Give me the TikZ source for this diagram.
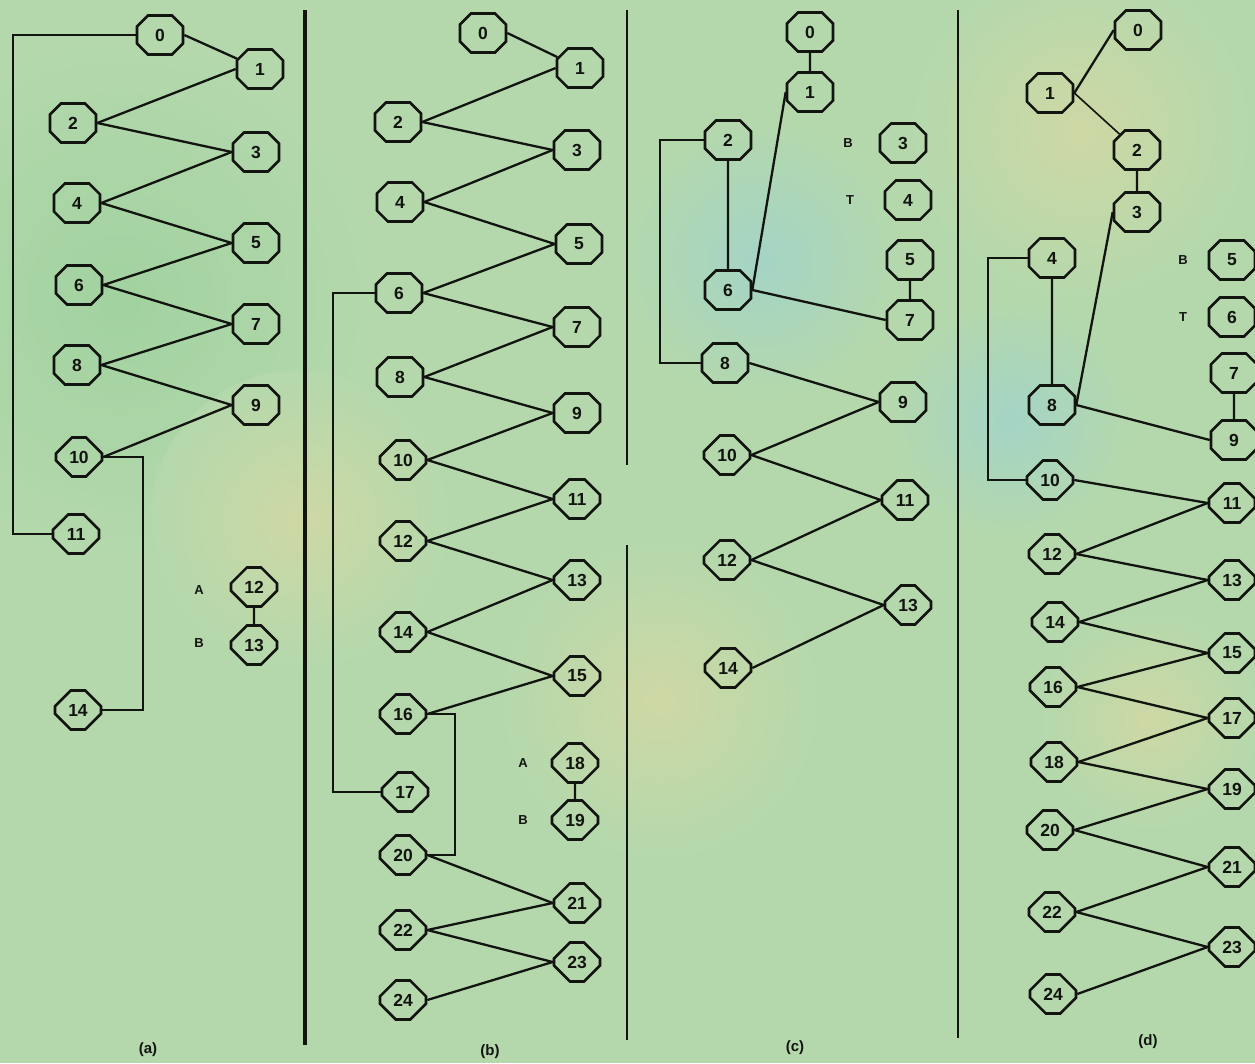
\documentclass[tikz,border=0pt]{standalone}
\usepackage{fontspec}
\newfontfamily\nf{Liberation Sans}
\usetikzlibrary{shapes.misc}
\definecolor{bg}{RGB}{180,216,172}
\definecolor{bgy}{RGB}{206,216,164}
\definecolor{bgb}{RGB}{164,212,198}
\definecolor{bgg}{RGB}{162,210,160}
\definecolor{ink}{RGB}{18,20,16}
\tikzset{
  oct/.style={draw=ink, chamfered rectangle, chamfered rectangle sep=12pt,
    minimum width=46pt, minimum height=39pt, inner sep=0pt, line width=2.6pt,
    font=\nf\bfseries\fontsize{17.5}{17.5}\selectfont, text=ink},
  edge/.style={draw=ink, line width=2.3pt},
  divider/.style={draw=ink, line width=2.5pt},
  tag/.style={font=\nf\bfseries\fontsize{13}{13}\selectfont, text=ink},
  captext/.style={font=\nf\bfseries\fontsize{15}{15}\selectfont, text=ink}
}
\begin{document}
\begin{tikzpicture}[x=1pt,y=-1pt]
\useasboundingbox (0,0) rectangle (1255,1063);
% background
\fill[bg] (0,0) rectangle (1255,1063);
\shade[inner color=bgg, outer color=bg] (120,300) circle (260);
\shade[inner color=bgy, outer color=bg] (1080,130) circle (170);
\shade[inner color=bgy, outer color=bg] (300,520) circle (150);
\shade[inner color=bgy, outer color=bg] (660,700) circle (160);
\shade[inner color=bgb, outer color=bg] (760,260) circle (140);
\shade[inner color=bgb, outer color=bg] (1010,420) circle (120);
\shade[inner color=bgy, outer color=bg] (1150,720) circle (110);

% dividers
\coordinate (v1t) at (305,10); \coordinate (v1b) at (305,1045);
\coordinate (v2t) at (627,10); \coordinate (v2m) at (627,465);
\coordinate (v2n) at (627,545); \coordinate (v2b) at (627,1040);
\coordinate (v3t) at (958,10); \coordinate (v3b) at (958,1038);
\draw[divider, line width=3.5pt] (v1t) -- (v1b);
\draw[divider] (v2t) -- (v2m);
\draw[divider] (v2n) -- (v2b);
\draw[divider] (v3t) -- (v3b);

% ---------- panel (a)
\node[oct] (a0) at (160,35) {0};
\node[oct] (a1) at (260,69) {1};
\node[oct] (a2) at (73,123) {2};
\node[oct] (a3) at (256,152) {3};
\node[oct] (a4) at (77,203) {4};
\node[oct] (a5) at (256,243) {5};
\node[oct] (a6) at (79,285) {6};
\node[oct] (a7) at (256,324) {7};
\node[oct] (a8) at (77,365) {8};
\node[oct] (a9) at (256,405) {9};
\node[oct] (a10) at (79,457) {10};
\node[oct] (a11) at (76,534) {11};
\node[oct] (a12) at (254,587) {12};
\node[oct] (a13) at (254,645) {13};
\node[oct] (a14) at (78,710) {14};
\node[tag] (aA) at (199,590) {A};
\node[tag] (aB) at (199,643) {B};
\draw[edge] (a0.east) -- (a1);
\foreach \l/\r in {2/1,2/3,4/3,4/5,6/5,6/7,8/7,8/9,10/9}
  \draw[edge] (a\l.east) -- (a\r.west);
\draw[edge] (a12) -- (a13);
\coordinate (aLb) at (13,534);
\coordinate (aRb) at (143,710);
\draw[edge] (a0.west) -| (aLb) -- (a11.west);
\draw[edge] (a10.east) -| (aRb) -- (a14.east);
\node[captext] (capa) at (148,1050) {(a)};

% ---------- panel (b)
\node[oct] (b0) at (483,33) {0};
\node[oct] (b1) at (580,68) {1};
\node[oct] (b2) at (398,122) {2};
\node[oct] (b3) at (577,150) {3};
\node[oct] (b4) at (400,202) {4};
\node[oct] (b5) at (579,244) {5};
\node[oct] (b6) at (399,293) {6};
\node[oct] (b7) at (577,327) {7};
\node[oct] (b8) at (400,377) {8};
\node[oct] (b9) at (577,413) {9};
\node[oct] (b10) at (403,460) {10};
\node[oct] (b11) at (577,499) {11};
\node[oct] (b12) at (403,541) {12};
\node[oct] (b13) at (577,580) {13};
\node[oct] (b14) at (403,632) {14};
\node[oct] (b15) at (577,676) {15};
\node[oct] (b16) at (403,714) {16};
\node[oct] (b17) at (405,792) {17};
\node[oct] (b18) at (575,763) {18};
\node[oct] (b19) at (575,820) {19};
\node[oct] (b20) at (403,855) {20};
\node[oct] (b21) at (577,903) {21};
\node[oct] (b22) at (403,930) {22};
\node[oct] (b23) at (577,962) {23};
\node[oct] (b24) at (403,1000) {24};
\node[tag] (bA) at (523,763) {A};
\node[tag] (bB) at (523,820) {B};
\draw[edge] (b0.east) -- (b1);
\foreach \l/\r in {2/1,2/3,4/3,4/5,6/5,6/7,8/7,8/9,10/9,10/11,12/11,12/13,14/13,14/15,16/15,20/21,22/21,22/23,24/23}
  \draw[edge] (b\l.east) -- (b\r.west);
\draw[edge] (b18) -- (b19);
\coordinate (bLb) at (333,792);
\coordinate (bRb) at (455,855);
\draw[edge] (b6.west) -| (bLb) -- (b17.west);
\draw[edge] (b16.east) -| (bRb) -- (b20.east);
\node[captext] (capb) at (490,1052) {(b)};

% ---------- panel (c)
\node[oct] (c0) at (810,32) {0};
\node[oct] (c1) at (810,92) {1};
\node[oct] (c2) at (728,140) {2};
\node[oct] (c3) at (903,143) {3};
\node[oct] (c4) at (908,200) {4};
\node[oct] (c5) at (910,260) {5};
\node[oct] (c6) at (728,290) {6};
\node[oct] (c7) at (910,320) {7};
\node[oct] (c8) at (725,363) {8};
\node[oct] (c9) at (903,402) {9};
\node[oct] (c10) at (727,455) {10};
\node[oct] (c11) at (905,500) {11};
\node[oct] (c12) at (727,560) {12};
\node[oct] (c13) at (908,605) {13};
\node[oct] (c14) at (728,668) {14};
\node[tag] (cB) at (848,143) {B};
\node[tag] (cT) at (850,200) {T};
\draw[edge] (c0) -- (c1);
\draw[edge] (c2) -- (c6);
\draw[edge] (c5) -- (c7);
\draw[edge] (c1.west) -- (c6.east);
\foreach \l/\r in {6/7,8/9,10/9,10/11,12/11,12/13,14/13}
  \draw[edge] (c\l.east) -- (c\r.west);
\coordinate (cLb) at (660,363);
\draw[edge] (c2.west) -| (cLb) -- (c8.west);
\node[captext] (capc) at (795,1048) {(c)};

% ---------- panel (d)
\node[oct] (d0) at (1138,30) {0};
\node[oct] (d1) at (1050,93) {1};
\node[oct] (d2) at (1137,150) {2};
\node[oct] (d3) at (1137,212) {3};
\node[oct] (d4) at (1052,258) {4};
\node[oct] (d5) at (1232,260) {5};
\node[oct] (d6) at (1232,317) {6};
\node[oct] (d7) at (1234,373) {7};
\node[oct] (d8) at (1052,405) {8};
\node[oct] (d9) at (1234,440) {9};
\node[oct] (d10) at (1050,480) {10};
\node[oct] (d11) at (1232,503) {11};
\node[oct] (d12) at (1052,554) {12};
\node[oct] (d13) at (1232,580) {13};
\node[oct] (d14) at (1055,622) {14};
\node[oct] (d15) at (1232,653) {15};
\node[oct] (d16) at (1053,687) {16};
\node[oct] (d17) at (1232,718) {17};
\node[oct] (d18) at (1054,762) {18};
\node[oct] (d19) at (1232,789) {19};
\node[oct] (d20) at (1050,830) {20};
\node[oct] (d21) at (1232,867) {21};
\node[oct] (d22) at (1052,912) {22};
\node[oct] (d23) at (1232,947) {23};
\node[oct] (d24) at (1053,994) {24};
\node[tag] (dB) at (1183,260) {B};
\node[tag] (dT) at (1183,317) {T};
\draw[edge] (d1.east) -- (d0.west);
\draw[edge, line width=1.6pt] (d1.east) -- (d2);
\draw[edge] (d2) -- (d3);
\draw[edge] (d4) -- (d8);
\draw[edge] (d7) -- (d9);
\draw[edge] (d3.west) -- (d8.east);
\foreach \l/\r in {8/9,10/11,12/11,12/13,14/13,14/15,16/15,16/17,18/17,18/19,20/19,20/21,22/21,22/23,24/23}
  \draw[edge] (d\l.east) -- (d\r.west);
\coordinate (dLb) at (988,480);
\draw[edge] (d4.west) -| (dLb) -- (d10.west);
\node[captext] (capd) at (1148,1042) {(d)};
\end{tikzpicture}
\end{document}
